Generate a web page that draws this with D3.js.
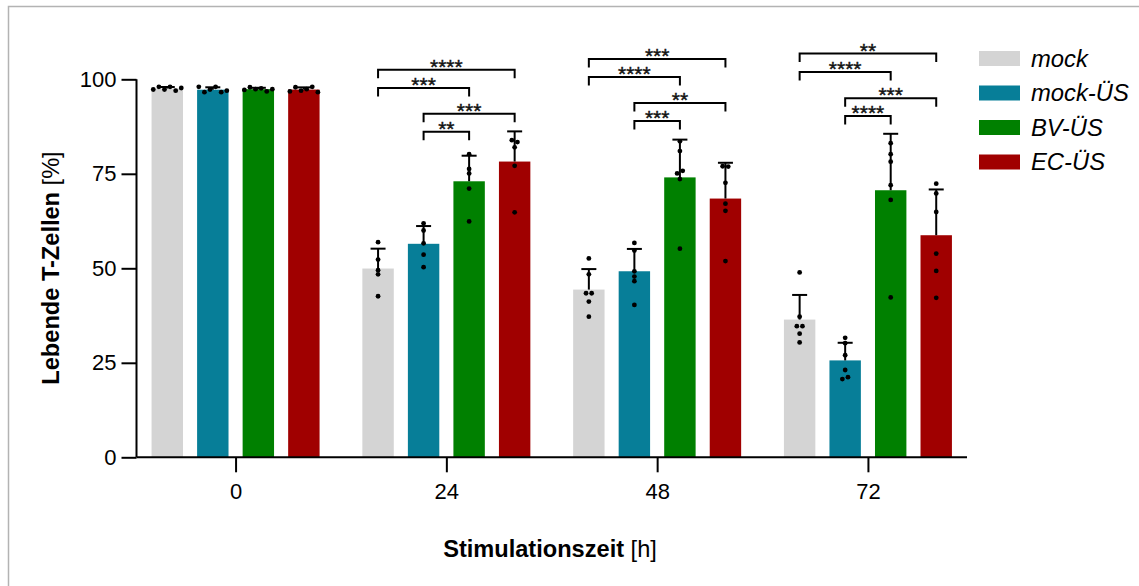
<!DOCTYPE html>
<html lang="de">
<head>
    <meta charset="UTF-8">
    <title>Lebende T-Zellen</title>
    <script src="https://d3js.org/d3.v7.min.js"></script>
    <style>
        body { margin: 0; background: #fff; }
        svg { display: block; font-family: Arial, "Liberation Sans", sans-serif; }
    </style>
</head>
<body>
    <svg width="1139" height="586"></svg>

    <script>
        // Stimulation time points (h) and conditions
        const timepoints = ["0", "24", "48", "72"];
        const series = ["mock", "mock-ÜS", "BV-ÜS", "EC-ÜS"];
        const colors = ["#d4d4d4", "#077e98", "#008000", "#a00000"];

        // single replicates per time point (% living T cells)
        const mockValues = [
            [97.3, 98.0, 97.3, 98.0, 97.0, 97.7],
            [56.9, 52.3, 49.5, 48.4, 42.6],
            [52.6, 48.4, 43.4, 43.4, 41.2, 37.2],
            [48.9, 37.2, 34.7, 34.7, 32.7, 30.4]
        ];
        const mockUsValues = [
            [98.0, 96.6, 97.3, 98.0, 96.6, 97.0],
            [61.9, 60.0, 56.6, 53.6, 50.3],
            [56.7, 54.7, 49.2, 47.8, 46.6, 40.3],
            [31.6, 30.2, 27.0, 23.1, 20.7, 21.2]
        ];
        const bvUsValues = [
            [97.2, 97.9, 97.4, 97.6, 96.8, 97.4],
            [80.2, 76.3, 75.1, 71.1, 62.4],
            [83.6, 81.0, 75.1, 75.8, 73.6, 55.2],
            [83.1, 80.2, 78.2, 72.0, 68.1, 42.3]
        ];
        const ecUsValues = [
            [96.8, 97.9, 97.0, 97.4, 98.0, 96.6],
            [83.9, 83.4, 82.0, 77.1, 64.8],
            [77.0, 76.9, 72.6, 67.1, 65.2, 51.9],
            [72.4, 69.8, 64.9, 53.9, 49.3, 42.2]
        ];

        // significance brackets: time point, from series, to series, label, level (%)
        const brackets = [
            ["24", 0, 3, "****", 102.5],
            ["24", 0, 2, "***", 97.7],
            ["24", 1, 3, "***", 90.9],
            ["24", 1, 2, "**", 86.1],
            ["48", 0, 3, "***", 105.4],
            ["48", 0, 2, "****", 100.6],
            ["48", 1, 3, "**", 93.7],
            ["48", 1, 2, "***", 89.0],
            ["72", 0, 3, "**", 106.8],
            ["72", 0, 2, "****", 101.9],
            ["72", 1, 3, "***", 95.0],
            ["72", 1, 2, "****", 90.3]
        ];

        const yTicks = [0, 25, 50, 75, 100];

        const allValues = [mockValues, mockUsValues, bvUsValues, ecUsValues];

        const svg = d3.select("svg");

        // light frame
        svg.append("path")
            .attr("d", "M8.5,600V6.5H1200")
            .attr("fill", "none")
            .attr("stroke", "#b3b3b3")
            .attr("stroke-width", 1.5);

        const x0 = d3.scalePoint().domain(timepoints).range([136.5, 967]).padding(0.47);
        const x1 = d3.scaleBand().domain(series).range([-84, 84]).paddingInner(0.31);
        const y = d3.scaleLinear().domain([0, 100]).range([457.3, 79.3]);

        const rows = [];
        timepoints.forEach((t, ti) => {
            series.forEach((s, si) => {
                const vals = allValues[si][ti];
                rows.push({
                    t, s, si,
                    vals,
                    mean: d3.mean(vals),
                    sd: d3.deviation(vals)
                });
            });
        });

        const g = svg.append("g");

        // bars
        g.selectAll("rect.bar")
            .data(rows)
            .join("rect")
            .attr("class", "bar")
            .attr("x", d => x0(d.t) + x1(d.s))
            .attr("width", x1.bandwidth())
            .attr("y", d => y(d.mean))
            .attr("height", d => y(0) - y(d.mean))
            .attr("fill", d => colors[d.si]);

        // error bars (mean + SD)
        const err = g.selectAll("g.err")
            .data(rows)
            .join("g")
            .attr("class", "err")
            .attr("transform", d => `translate(${x0(d.t) + x1(d.s) + x1.bandwidth() / 2},0)`);
        err.append("line")
            .attr("y1", d => y(d.mean))
            .attr("y2", d => y(d.mean + d.sd))
            .attr("stroke", "#000")
            .attr("stroke-width", 2);
        err.append("line")
            .attr("x1", -7.5).attr("x2", 7.5)
            .attr("y1", d => y(d.mean + d.sd))
            .attr("y2", d => y(d.mean + d.sd))
            .attr("stroke", "#000")
            .attr("stroke-width", 2);

        // scatter of replicates, points close in y are spread sideways
        const dots = [];
        rows.forEach(d => {
            const cx = x0(d.t) + x1(d.s) + x1.bandwidth() / 2;
            const pts = d.vals.map((v, i) => ({ v, i, py: y(v) }));
            const sorted = pts.slice().sort((a, b) => a.py - b.py);
            const clusters = [];
            sorted.forEach(p => {
                const last = clusters[clusters.length - 1];
                if (last && p.py - last[last.length - 1].py < 3.5) last.push(p);
                else clusters.push([p]);
            });
            clusters.forEach(c => {
                c.sort((a, b) => a.i - b.i);
                c.forEach((p, k) => {
                    dots.push({ x: cx + (k - (c.length - 1) / 2) * 5.6, y: p.py });
                });
            });
        });
        g.selectAll("circle.dot")
            .data(dots)
            .join("circle")
            .attr("class", "dot")
            .attr("cx", d => d.x)
            .attr("cy", d => d.y)
            .attr("r", 2.4)
            .attr("fill", "#000");

        // axes
        const yAxis = g.append("g")
            .attr("transform", "translate(136.5,0)")
            .call(d3.axisLeft(y).tickValues(yTicks).tickSize(15).tickPadding(5));
        const xAxis = g.append("g")
            .attr("transform", `translate(0,${y(0)})`)
            .call(d3.axisBottom(x0).tickSize(15).tickPadding(11));
        [yAxis, xAxis].forEach(a => {
            a.select(".domain").attr("stroke", "#000").attr("stroke-width", 2);
            a.selectAll(".tick line").attr("stroke", "#000").attr("stroke-width", 2);
            a.selectAll(".tick text")
                .attr("fill", "#000")
                .attr("font-size", 22)
                .attr("font-family", "Arial, 'Liberation Sans', sans-serif");
        });
        yAxis.select(".domain").attr("d", `M0,${y(100)}V${y(0)}`);
        xAxis.select(".domain").attr("d", "M136.5,0H967");

        // significance brackets
        const br = g.selectAll("g.bracket")
            .data(brackets)
            .join("g")
            .attr("class", "bracket");
        br.append("path")
            .attr("d", d => {
                const xa = x0(d[0]) + x1(series[d[1]]) + x1.bandwidth() / 2;
                const xb = x0(d[0]) + x1(series[d[2]]) + x1.bandwidth() / 2;
                const yy = y(d[4]);
                return `M${xa},${yy + 8.5}V${yy}H${xb}V${yy + 8.5}`;
            })
            .attr("fill", "none")
            .attr("stroke", "#000")
            .attr("stroke-width", 2);
        br.append("text")
            .attr("x", d => (x0(d[0]) + x1(series[d[1]]) + x0(d[0]) + x1(series[d[2]])) / 2 + x1.bandwidth() / 2)
            .attr("y", d => y(d[4]) + 4)
            .attr("text-anchor", "middle")
            .attr("font-size", 21)
            .attr("fill", "#111")
            .attr("stroke", "#111")
            .attr("stroke-width", 0.4)
            .text(d => d[3]);

        // axis titles
        const yt = svg.append("text")
            .attr("transform", "translate(59,268) rotate(-90)")
            .attr("text-anchor", "middle")
            .attr("font-size", 23.6)
            .attr("fill", "#000");
        yt.append("tspan").attr("font-weight", "bold").text("Lebende T-Zellen");
        yt.append("tspan").text(" [%]");

        const xt = svg.append("text")
            .attr("x", 550)
            .attr("y", 556.5)
            .attr("text-anchor", "middle")
            .attr("font-size", 23.6)
            .attr("fill", "#000");
        xt.append("tspan").attr("font-weight", "bold").text("Stimulationszeit");
        xt.append("tspan").text(" [h]");

        // legend
        const legend = svg.append("g")
            .selectAll("g")
            .data(series)
            .join("g")
            .attr("transform", (d, i) => `translate(979,${51 + i * 34.5})`);
        legend.append("rect")
            .attr("width", 41)
            .attr("height", 15)
            .attr("fill", (d, i) => colors[i]);
        legend.append("text")
            .attr("x", 52)
            .attr("y", 15.5)
            .attr("font-size", 23.8)
            .attr("font-style", "italic")
            .attr("fill", "#000")
            .text(d => d);
    </script>
</body>
</html>
